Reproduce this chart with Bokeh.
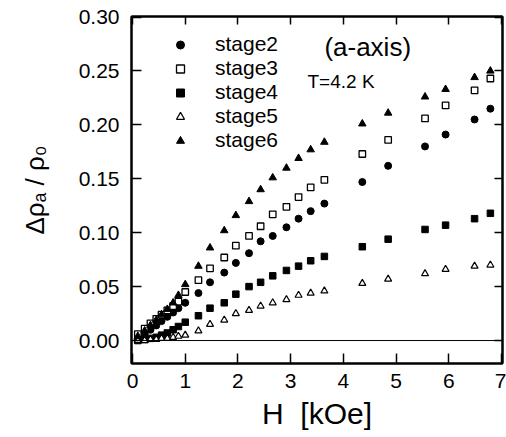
from bokeh.plotting import figure
from bokeh.models import (Range1d, LinearAxis, FixedTicker, NumeralTickFormatter,
                          Span, Label, Legend, LegendItem, ColumnDataSource)
from bokeh.embed import file_html
from bokeh.resources import INLINE

# Field H [kOe]
H = [0.1, 0.23, 0.34, 0.45, 0.55, 0.66, 0.77, 0.87, 1.0, 1.25,
     1.47, 1.74, 1.96, 2.21, 2.43, 2.66, 2.92, 3.15, 3.38, 3.64,
     4.36, 4.85, 5.55, 5.94, 6.49, 6.79]

stage2 = [0.002, 0.006, 0.010, 0.014, 0.018, 0.022, 0.026, 0.030, 0.035, 0.044,
          0.054, 0.063, 0.072, 0.081, 0.092, 0.097, 0.105, 0.113, 0.120, 0.127,
          0.147, 0.162, 0.180, 0.191, 0.205, 0.215]
stage3 = [0.006, 0.011, 0.016, 0.020, 0.024, 0.028, 0.032, 0.036, 0.045, 0.056,
          0.067, 0.077, 0.088, 0.097, 0.106, 0.117, 0.124, 0.133, 0.142, 0.149,
          0.173, 0.186, 0.206, 0.218, 0.232, 0.243]
stage4 = [0.000, 0.001, 0.002, 0.003, 0.005, 0.007, 0.010, 0.013, 0.017, 0.023,
          0.030, 0.035, 0.043, 0.050, 0.054, 0.060, 0.065, 0.069, 0.074, 0.078,
          0.087, 0.094, 0.103, 0.107, 0.113, 0.118]
stage5 = [0.000, 0.000, 0.001, 0.001, 0.002, 0.002, 0.003, 0.004, 0.005, 0.009,
          0.015, 0.019, 0.025, 0.028, 0.032, 0.035, 0.038, 0.042, 0.044, 0.046,
          0.053, 0.057, 0.062, 0.066, 0.069, 0.070]
stage6 = [0.004, 0.009, 0.014, 0.019, 0.024, 0.029, 0.035, 0.042, 0.052, 0.069,
          0.086, 0.102, 0.116, 0.129, 0.140, 0.151, 0.160, 0.169, 0.177, 0.184,
          0.201, 0.211, 0.226, 0.233, 0.244, 0.250]

x_ticks = [0, 1, 2, 3, 4, 5, 6, 7]
y_ticks = [0.0, 0.05, 0.10, 0.15, 0.20, 0.25, 0.30]

FONT = "Liberation Sans"

src = ColumnDataSource(dict(H=H, s2=stage2, s3=stage3, s4=stage4, s5=stage5, s6=stage6))

p = figure(width=506, height=437, output_backend="svg", toolbar_location=None,
           x_range=Range1d(-0.02, 7.02), y_range=Range1d(-0.0213, 0.3005),
           min_border_left=131, min_border_right=4, min_border_top=16,
           min_border_bottom=74)
p.grid.visible = False
p.background_fill_color = "white"
p.outline_line_color = "black"
p.outline_line_width = 2

# Bottom axis
xa = p.xaxis[0]
xa.ticker = FixedTicker(ticks=x_ticks)
xa.axis_label = "H\u00a0\u00a0[kOe]"
xa.axis_label_text_font = FONT
xa.axis_label_text_font_style = "normal"
xa.axis_label_text_font_size = "30px"
xa.axis_label_text_color = "black"
xa.axis_label_standoff = 6
xa.major_label_text_font = FONT
xa.major_label_text_font_size = "21px"
xa.major_label_text_color = "black"
xa.major_label_standoff = 10
xa.major_tick_in = 10
xa.major_tick_out = 0
xa.minor_tick_line_color = None
xa.axis_line_width = 2
xa.major_tick_line_width = 1.5

# Left axis
ya = p.yaxis[0]
ya.ticker = FixedTicker(ticks=y_ticks)
ya.formatter = NumeralTickFormatter(format="0.00")
ya.axis_label = "Δρₐ / ρ₀"
ya.axis_label_text_font = FONT
ya.axis_label_text_font_style = "normal"
ya.axis_label_text_font_size = "26px"
ya.axis_label_text_color = "black"
ya.axis_label_standoff = 26
ya.major_label_text_font = FONT
ya.major_label_text_font_size = "21px"
ya.major_label_text_color = "black"
ya.major_label_standoff = 12
ya.major_tick_in = 10
ya.major_tick_out = 0
ya.minor_tick_line_color = None
ya.axis_line_width = 2
ya.major_tick_line_width = 1.5

# Top and right axes (ticks only)
top = LinearAxis(ticker=FixedTicker(ticks=x_ticks), major_label_text_font_size="1px",
                 major_label_text_color=None,
                 major_label_standoff=0, major_tick_in=8, major_tick_out=0,
                 minor_tick_line_color=None, axis_line_width=2, major_tick_line_width=1.5)
right = LinearAxis(ticker=FixedTicker(ticks=y_ticks), major_label_text_font_size="1px",
                   major_label_text_color=None,
                   major_label_standoff=0, major_tick_in=8, major_tick_out=0,
                   minor_tick_line_color=None, axis_line_width=2, major_tick_line_width=1.5)
p.add_layout(top, "above")
p.add_layout(right, "right")

p.add_layout(Span(location=0, dimension="width", line_color="black", line_width=1))

r2 = p.scatter("H", "s2", source=src, marker="circle", size=7,
               fill_color="black", line_color="black")
r3 = p.scatter("H", "s3", source=src, marker="square", size=6.5,
               fill_color="white", line_color="black", line_width=1.3)
r4 = p.scatter("H", "s4", source=src, marker="square", size=6.5,
               fill_color="black", line_color="black")
r5 = p.scatter("H", "s5", source=src, marker="triangle", size=7,
               fill_color="white", line_color="black", line_width=1.2)
r6 = p.scatter("H", "s6", source=src, marker="triangle", size=7.5,
               fill_color="black", line_color="black")

legend = Legend(items=[LegendItem(label="stage2", renderers=[r2]),
                       LegendItem(label="stage3", renderers=[r3]),
                       LegendItem(label="stage4", renderers=[r4]),
                       LegendItem(label="stage5", renderers=[r5]),
                       LegendItem(label="stage6", renderers=[r6])],
                location=(39, 211), orientation="vertical",
                label_text_font=FONT, label_text_font_size="21px",
                label_text_color="black",
                glyph_width=20, glyph_height=23, label_height=23,
                spacing=0, padding=0, margin=0, label_standoff=25,
                border_line_color=None, background_fill_alpha=0)
p.add_layout(legend, "center")

p.add_layout(Label(x=3.64, y=0.272, text="(a-axis)", text_font=FONT,
                   text_font_size="26px", text_color="black",
                   text_baseline="alphabetic"))
p.add_layout(Label(x=3.32, y=0.240, text="T=4.2 K", text_font=FONT,
                   text_font_size="19px", text_color="black",
                   text_baseline="alphabetic"))

open("out.html", "w").write(file_html(p, INLINE))
